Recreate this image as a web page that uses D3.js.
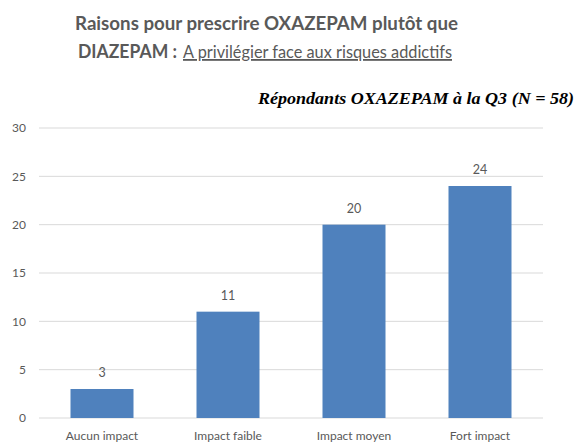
<!DOCTYPE html>
<html>
<head>
<script src="https://d3js.org/d3.v7.min.js"></script>
<style>
  body { margin: 0; background: #fff; }
</style>
</head>
<body>
<svg width="579" height="447"></svg>
<script>
// Data
const categories = ["Aucun impact", "Impact faible", "Impact moyen", "Fort impact"];
const values = [3, 11, 20, 24];
const yTicks = [0, 5, 10, 15, 20, 25, 30];

const width = 579, height = 447;
const margin = { top: 128, right: 36, bottom: 29, left: 39 };
const font = "Lato, 'Open Sans', sans-serif";
const grey = "#595959";

const svg = d3.select("svg");

const x = d3.scaleBand()
  .domain(categories)
  .range([margin.left, width - margin.right])
  .paddingInner(0.5)
  .paddingOuter(0.25);

const y = d3.scaleLinear()
  .domain([0, 30])
  .range([height - margin.bottom, margin.top]);

// Gridlines
svg.append("g")
  .selectAll("line")
  .data(yTicks)
  .join("line")
  .attr("x1", margin.left)
  .attr("x2", width - margin.right)
  .attr("y1", d => y(d))
  .attr("y2", d => y(d))
  .attr("stroke", "#d9d9d9")
  .attr("stroke-width", 1);

// Y axis labels
const yAxis = d3.axisLeft(y).tickValues(yTicks).tickSize(0).tickPadding(13);
svg.append("g")
  .attr("transform", `translate(${margin.left},0)`)
  .call(yAxis)
  .call(g => g.select(".domain").remove())
  .call(g => g.selectAll("text").attr("font-size", 12).attr("fill", grey).attr("font-family", font));

// Bars
svg.append("g")
  .selectAll("rect")
  .data(values)
  .join("rect")
  .attr("x", (d, i) => x(categories[i]))
  .attr("y", d => y(d))
  .attr("width", x.bandwidth())
  .attr("height", d => y(0) - y(d))
  .attr("fill", "#4f81bd");

// Value labels
svg.append("g")
  .selectAll("text")
  .data(values)
  .join("text")
  .attr("x", (d, i) => x(categories[i]) + x.bandwidth() / 2)
  .attr("y", d => y(d) - 12)
  .attr("text-anchor", "middle")
  .attr("font-family", font)
  .attr("font-size", 12.5)
  .attr("fill", grey)
  .text(d => d);

// X axis labels
const xAxis = d3.axisBottom(x).tickSize(0).tickPadding(13);
svg.append("g")
  .attr("transform", `translate(0,${y(0)})`)
  .call(xAxis)
  .call(g => g.select(".domain").remove())
  .call(g => g.selectAll("text").attr("font-size", 12).attr("fill", grey).attr("font-family", font));

// Title
svg.append("text")
  .attr("x", 75).attr("y", 30)
  .attr("font-family", font).attr("fill", grey)
  .attr("font-size", 19).attr("font-weight", "bold")
  .attr("textLength", 383).attr("lengthAdjust", "spacingAndGlyphs")
  .text("Raisons pour prescrire OXAZEPAM plutôt que");

svg.append("text")
  .attr("x", 78).attr("y", 58)
  .attr("font-family", font).attr("fill", grey)
  .attr("font-size", 19).attr("font-weight", "bold")
  .attr("textLength", 99).attr("lengthAdjust", "spacingAndGlyphs")
  .text("DIAZEPAM :");

svg.append("text")
  .attr("x", 183).attr("y", 58)
  .attr("font-family", font).attr("fill", grey)
  .attr("font-size", 18)
  .attr("text-decoration", "underline")
  .attr("textLength", 269).attr("lengthAdjust", "spacingAndGlyphs")
  .text("A privilégier face aux risques addictifs");

// Subtitle
svg.append("text")
  .attr("x", 258).attr("y", 104)
  .attr("font-family", "'Liberation Serif', serif")
  .attr("font-size", 17).attr("font-weight", "bold").attr("font-style", "italic")
  .attr("fill", "#000")
  .attr("textLength", 316).attr("lengthAdjust", "spacingAndGlyphs")
  .text("Répondants OXAZEPAM à la Q3 (N = 58)");
</script>
</body>
</html>
